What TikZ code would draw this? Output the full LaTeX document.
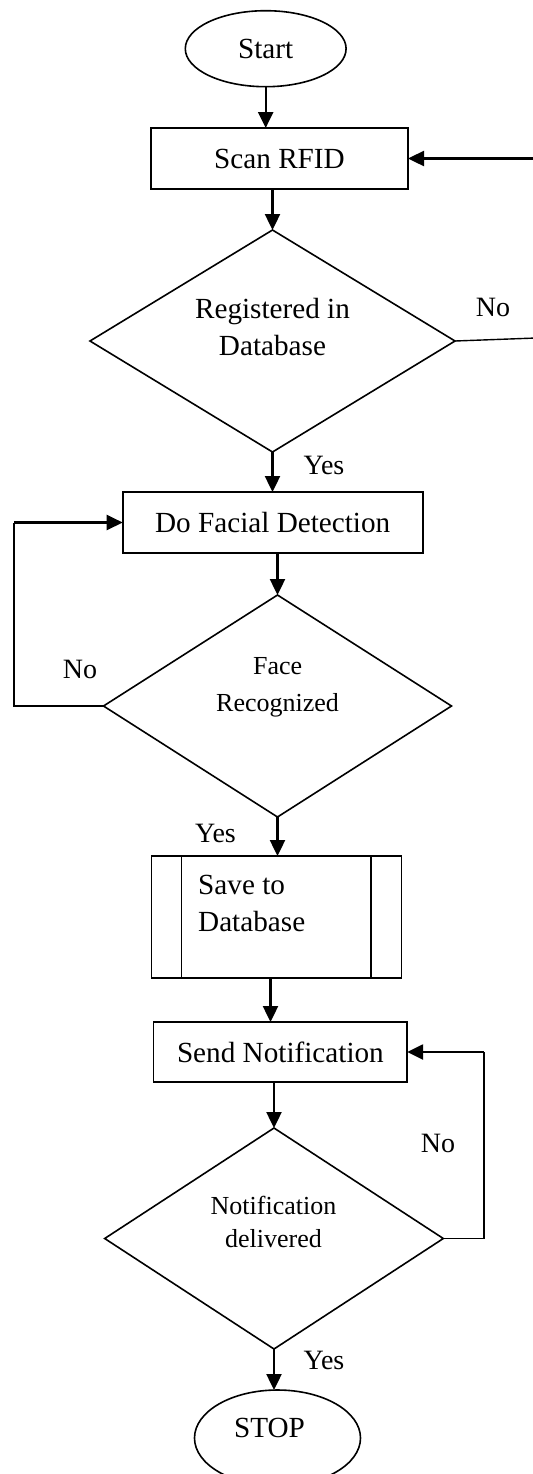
\documentclass[tikz,border=0pt]{standalone}
\usepackage{fontspec}
\setmainfont{Liberation Serif}
\usetikzlibrary{shapes.geometric,arrows.meta}
\tikzset{
  box/.style={draw, rectangle, line width=0.8pt, outer sep=0pt, font=\fontsize{14.6}{18.5}\selectfont},
  term/.style={draw, ellipse, line width=0.8pt, outer sep=0pt, font=\fontsize{14.6}{18.5}\selectfont},
  decision/.style={draw, diamond, line width=0.8pt, outer sep=0pt, inner sep=0pt},
  txt/.style={inner sep=0pt, align=center, font=\fontsize{14.6}{18.5}\selectfont},
  smalltxt/.style={inner sep=0pt, align=center, font=\fontsize{13}{18.5}\selectfont},
  lbl/.style={inner sep=0pt, font=\fontsize{14}{16}\selectfont},
  arr/.style={line width=1.2pt, -{Triangle[length=8pt,width=7.5pt]}},
  thinline/.style={line width=0.7pt}
}
\begin{document}
\begin{tikzpicture}[x=0.5pt, y=-0.5pt]
  \useasboundingbox (0, 0) rectangle (532, 1474);

  \node [term, minimum width=80.4pt, minimum height=38pt] (start) at (265.7, 48.7) {Start};
  \node [box, minimum width=128.5pt, minimum height=30.5pt] (scan) at (279.5, 158.5) {Scan RFID};
  \node [decision, minimum width=182.5pt, minimum height=111pt] (dec1) at (272.5, 341) {};
  \node [txt] (dec1txt) at (272.5, 327) {Registered in\\Database};
  \node [box, minimum width=150pt, minimum height=30.5pt] (facial) at (272.7, 522.5) {Do Facial Detection};
  \node [decision, minimum width=174pt, minimum height=111pt] (dec2) at (277.5, 706) {};
  \node [smalltxt] (dec2txt) at (277.6, 687) {Face\\Recognized};
  \node [box, minimum width=124.85pt, minimum height=61pt] (save) at (276.5, 917) {};
  \draw [line width=0.8pt] ([xshift=15pt]save.north west) -- ([xshift=15pt]save.south west);
  \draw [line width=0.8pt] ([xshift=-15.25pt]save.north east) -- ([xshift=-15.25pt]save.south east);
  \node [txt, align=left, anchor=west] (savetxt) at (197.8, 903.5) {Save to\\Database};
  \node [box, minimum width=126.75pt, minimum height=30pt] (notify) at (280.4, 1052) {Send Notification};
  \node [decision, minimum width=169.3pt, minimum height=110.5pt] (dec3) at (274, 1238.5) {};
  \node [smalltxt, font=\fontsize{13}{16.5}\selectfont] (dec3txt) at (273.5, 1222) {Notification\\delivered};
  \node [term, minimum width=83pt, minimum height=48pt] (stop) at (277.5, 1438) {};
  \node [txt] (stoptxt) at (269.5, 1428) {STOP};

  \coordinate (back1) at (536, 338);
  \coordinate (back2) at (14, 706);
  \coordinate (back3) at (484, 1238.5);

  \draw [arr] (start.south) -- (start.south |- scan.north);
  \draw [arr] (dec1.north |- scan.south) -- (dec1.north);
  \draw [arr] (dec1.south) -- (dec1.south |- facial.north);
  \draw [arr] (dec2.north |- facial.south) -- (dec2.north);
  \draw [arr] (dec2.south) -- (dec2.south |- save.north);
  \draw [arr] ([xshift=-3pt]save.south) -- ([xshift=-3pt]save.south |- notify.north);
  \draw [arr] (dec3.north |- notify.south) -- (dec3.north);
  \draw [arr] (dec3.south) -- (dec3.south |- stop.north);

  \draw [thinline] (dec1.east) -- (back1);
  \draw [arr] (back1) |- (scan.east);
  \draw [thinline] (dec2.west) -- (back2) -- (back2 |- facial.west);
  \draw [arr] (back2 |- facial.west) -- (facial.west);
  \draw [thinline] (dec3.east) -- (back3) -- (back3 |- notify.east);
  \draw [arr] (back3 |- notify.east) -- (notify.east);

  \node [lbl] (no1) at (493, 307) {No};
  \node [lbl] (yes1) at (324, 465) {Yes};
  \node [lbl] (no2) at (80, 669) {No};
  \node [lbl] (yes2) at (215.5, 833) {Yes};
  \node [lbl] (no3) at (438, 1143) {No};
  \node [lbl] (yes3) at (324, 1360) {Yes};
\end{tikzpicture}
\end{document}
